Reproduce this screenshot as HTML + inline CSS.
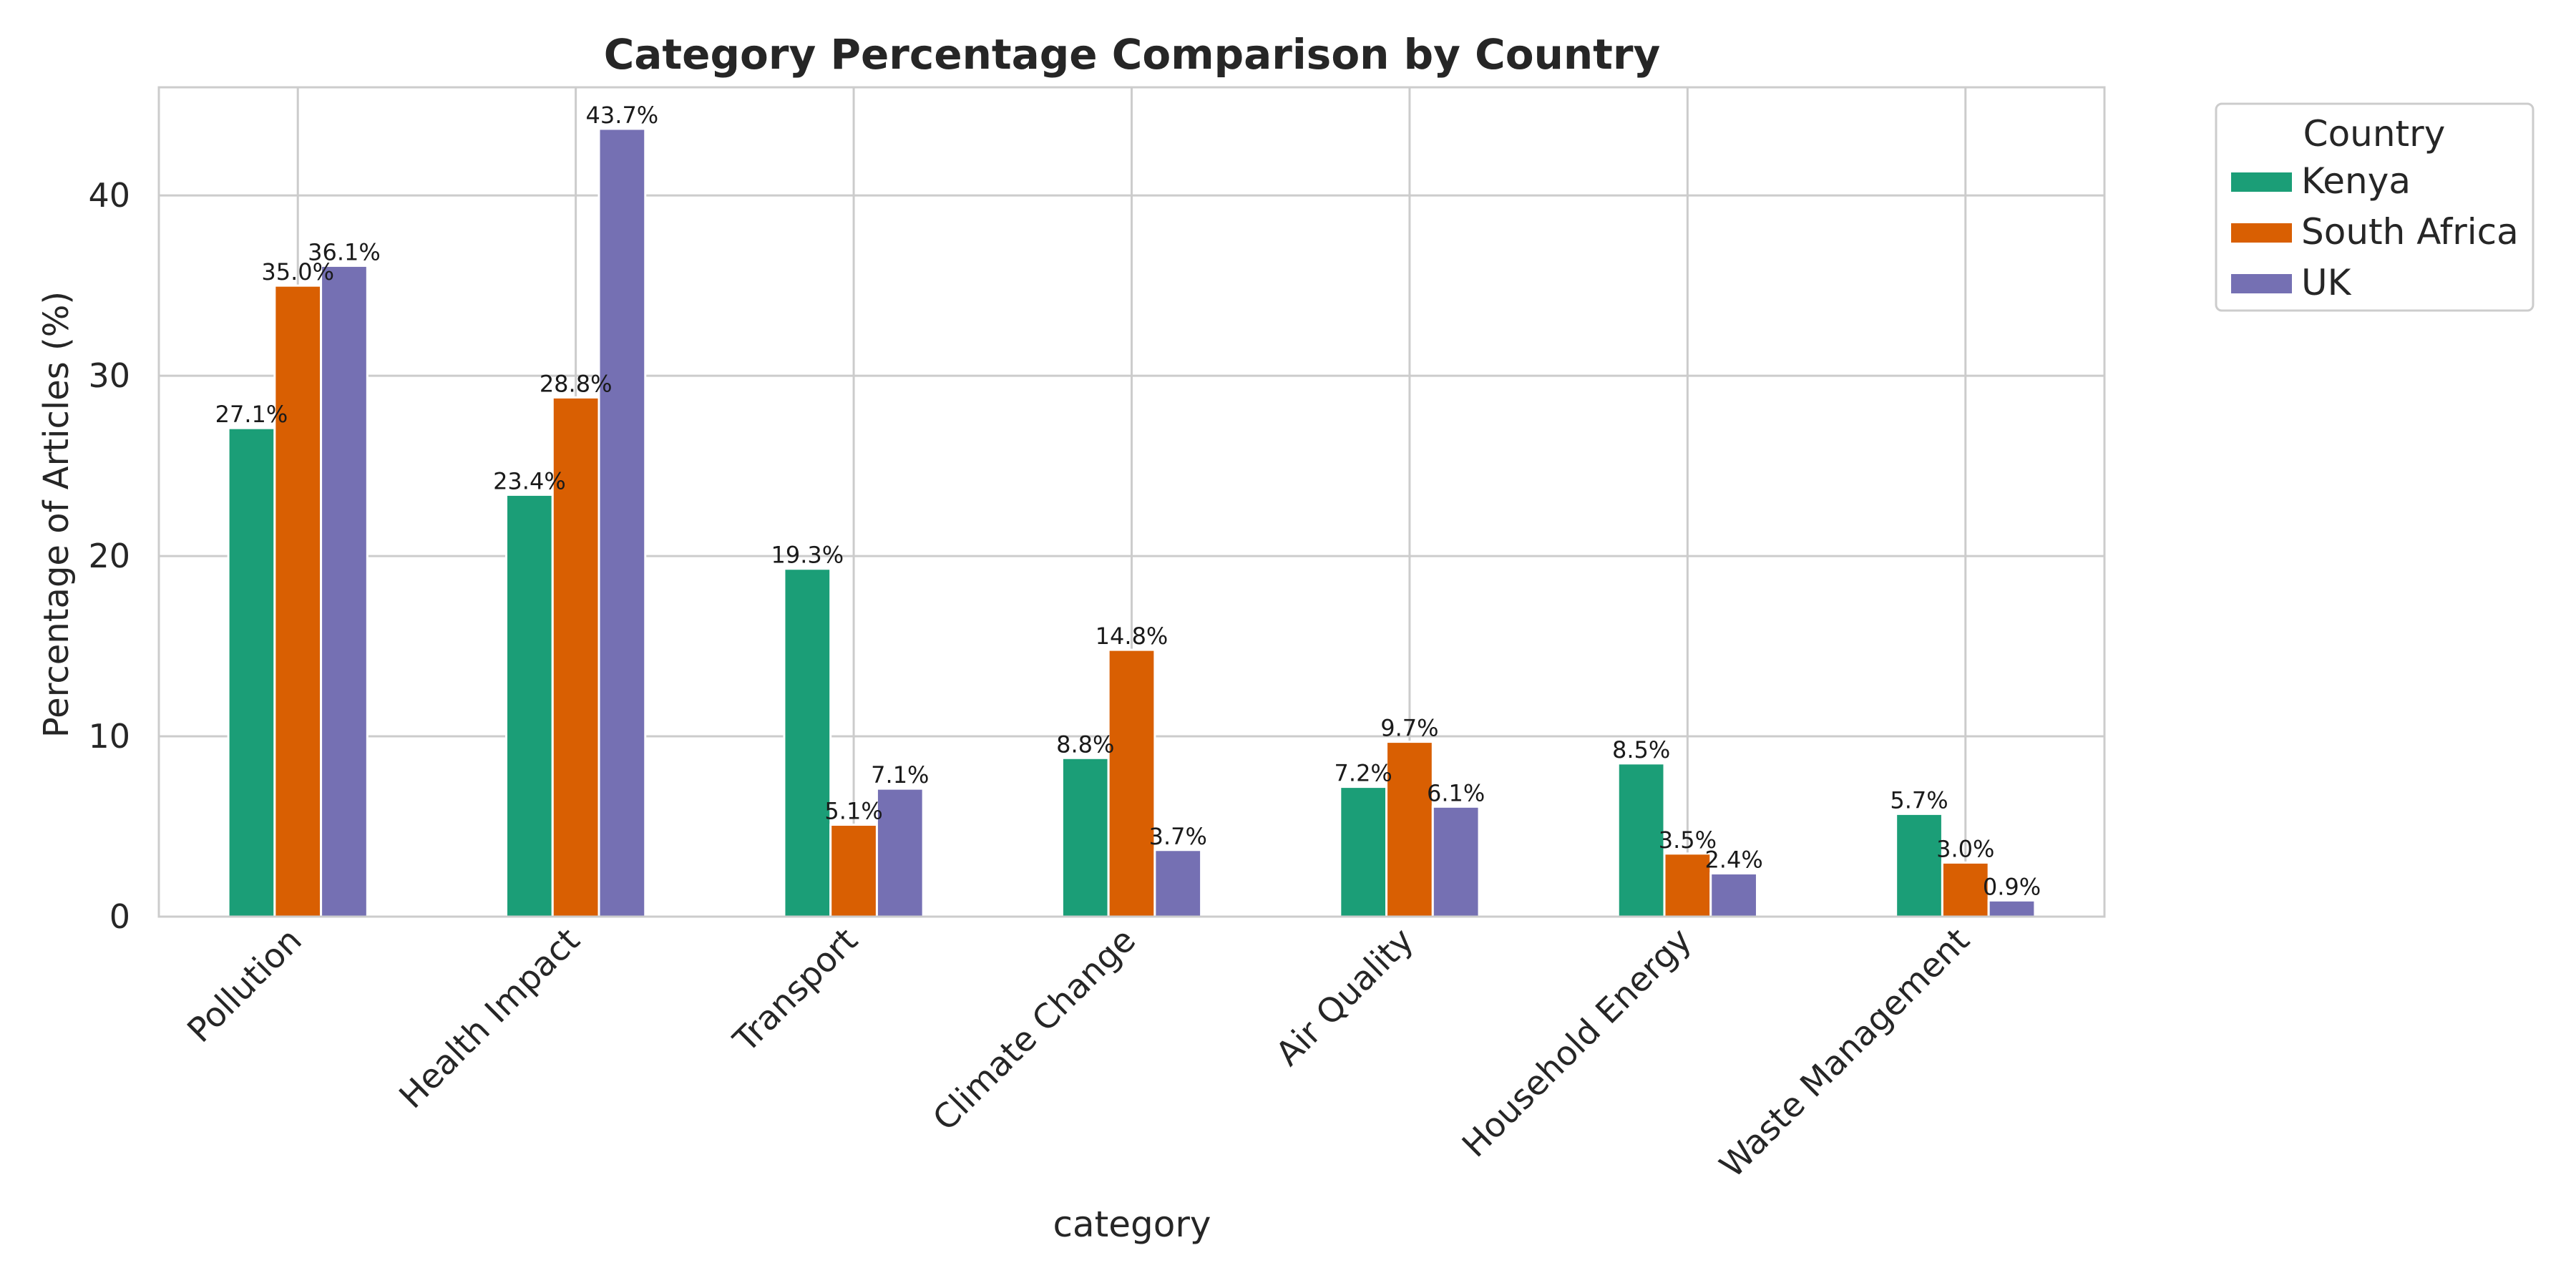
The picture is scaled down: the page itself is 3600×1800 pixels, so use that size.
<!DOCTYPE html>
<html><head><meta charset="utf-8"><style>
html,body{margin:0;padding:0;background:#fff;}
svg{display:block;font-family:"DejaVu Sans","Liberation Sans",sans-serif;}
</style></head><body>
<svg id="chart" width="3600" height="1800" viewBox="0 0 3600 1800">
<rect x="0" y="0" width="3600" height="1800" fill="#fff"/>
<g id="grid"></g>
<g id="bars"></g>
<g id="labels"></g>
<g id="axes"></g>
<text x="1582" y="96" text-anchor="middle" font-size="58" font-weight="bold" fill="#262626">Category Percentage Comparison by Country</text>
<text x="1582" y="1728" text-anchor="middle" font-size="50" fill="#262626">category</text>
<text transform="translate(95,719) rotate(-90)" text-anchor="middle" font-size="48" fill="#262626">Percentage of Articles (%)</text>
<g id="legend"></g>
</svg>
<script>
const categories = ["Pollution","Health Impact","Transport","Climate Change","Air Quality","Household Energy","Waste Management"];
const seriesNames = ["Kenya","South Africa","UK"];
const kenya = [27.1,23.4,19.3,8.8,7.2,8.5,5.7];
const southAfrica = [35.0,28.8,5.1,14.8,9.7,3.5,3.0];
const uk = [36.1,43.7,7.1,3.7,6.1,2.4,0.9];
const yTicks = [0,10,20,30,40];
const colors = ["#1b9e77","#d95f02","#7570b3"];
const series = [kenya, southAfrica, uk];

const NS="http://www.w3.org/2000/svg";
const L=222,R=2941,T=122,B=1281,YMAX=46.0;
const band=(R-L)/categories.length;
const bw=band*0.5/3;
function y(v){return B-(v/YMAX)*(B-T);}
function xc(i){return L+band*(i+0.5);}
function mk(tag,attrs,parent){const e=document.createElementNS(NS,tag);for(const k in attrs)e.setAttribute(k,attrs[k]);parent.appendChild(e);return e;}
const grid=document.getElementById('grid'),bars=document.getElementById('bars'),labels=document.getElementById('labels'),axes=document.getElementById('axes'),legend=document.getElementById('legend');

yTicks.forEach(t=>{
  const g=mk('line',{x1:L,x2:R,y1:y(t),y2:y(t),stroke:'#cccccc','stroke-width':3},grid);
  
  
  const tx=mk('text',{x:L-40,y:y(t)+16,'text-anchor':'end','font-size':46,fill:'#262626'},axes);
  tx.textContent=t;
  
  
});
categories.forEach((c,i)=>{
  const g=mk('line',{x1:xc(i),x2:xc(i),y1:T,y2:B,stroke:'#cccccc','stroke-width':3},grid);
  
  
  const tx=mk('text',{transform:`translate(${xc(i)+8},${B+36}) rotate(-45)`,'text-anchor':'end','font-size':47,fill:'#262626'},axes);
  tx.textContent=c;
  
  
});
series.forEach((s,si)=>{
  s.forEach((v,i)=>{
    const x0=xc(i)-1.5*bw+si*bw;
    const r=mk('rect',{x:x0,y:y(v),width:bw,height:B-y(v),fill:colors[si],stroke:'#fff','stroke-width':3},bars);
    
    
    const t=mk('text',{x:x0+bw/2,y:y(v)-8,'text-anchor':'middle','font-size':32,fill:'#1a1a1a'},labels);
    t.textContent=v.toFixed(1)+'%';
    
    
  });
});
const fr=mk('rect',{x:L,y:T,width:R-L,height:B-T,fill:'none',stroke:'#cccccc','stroke-width':3},axes);



const lb=mk('rect',{x:3097,y:145,width:443,height:289,rx:8,fill:'#fff',stroke:'#cccccc','stroke-width':3},legend);


const lt=mk('text',{x:3318,y:204,'text-anchor':'middle','font-size':50,fill:'#262626'},legend);
lt.textContent='Country';


seriesNames.forEach((n,i)=>{
  const yy=253+i*71;
  const p=mk('rect',{x:3118,y:yy-12,width:85,height:27,fill:colors[i]},legend);
  
  
  const t=mk('text',{x:3216,y:yy+17,'font-size':50,fill:'#262626'},legend);
  t.textContent=n;
  
  
});
</script>
</body></html>
